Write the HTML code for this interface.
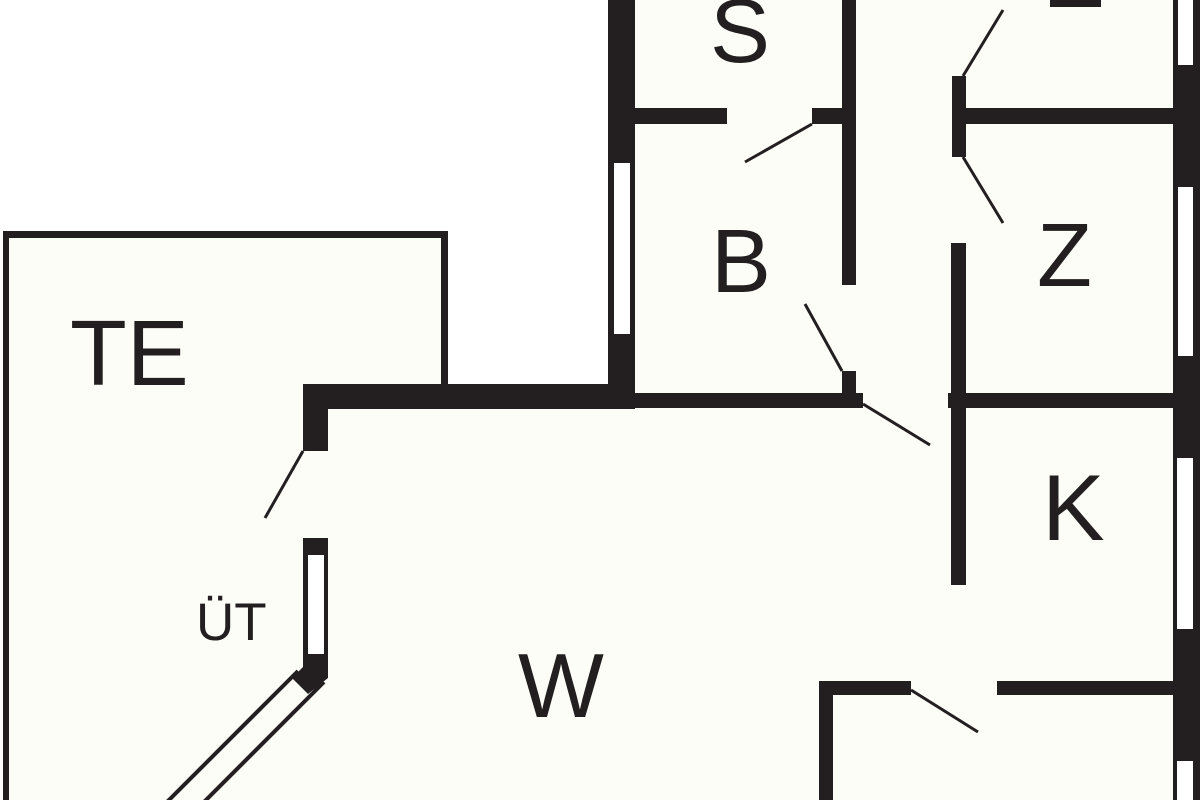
<!DOCTYPE html>
<html><head><meta charset="utf-8"><style>
html,body{margin:0;padding:0;background:#fff;}
svg{display:block;}
text{font-family:"Liberation Sans",sans-serif;fill:#231f20;}
</style></head><body>
<svg width="1200" height="800" viewBox="0 0 1200 800" xmlns="http://www.w3.org/2000/svg">
<rect x="0" y="0" width="1200" height="800" fill="#fdfdf8"/>
<rect x="0" y="0" width="608" height="231" fill="#fff"/>
<rect x="448" y="231" width="160" height="153" fill="#fff"/>
<rect x="0" y="0" width="3" height="800" fill="#fff"/>
<g fill="#231f20">
<rect x="3" y="231" width="6" height="569"/>
<rect x="3" y="231" width="445" height="7"/>
<rect x="441" y="231" width="7" height="153"/>
<rect x="303" y="384" width="332" height="25"/>
<rect x="303" y="384" width="25" height="67"/>
<rect x="303" y="538" width="25" height="117"/>
<polygon points="303,654 328,654 328,678 308,694 292,678 303,667"/>
<rect x="608" y="0" width="27" height="409"/>
<rect x="635" y="108" width="92" height="16"/>
<rect x="812" y="108" width="31" height="16"/>
<rect x="842" y="0" width="14" height="285"/>
<rect x="842" y="371" width="14" height="24"/>
<rect x="635" y="393" width="228" height="15"/>
<rect x="948" y="393" width="227" height="15"/>
<rect x="952" y="76" width="14" height="81"/>
<rect x="951" y="243" width="15" height="342"/>
<rect x="966" y="108" width="209" height="16"/>
<rect x="1173" y="0" width="27" height="800"/>
<rect x="819" y="681" width="92" height="14"/>
<rect x="997" y="681" width="176" height="14"/>
<rect x="819" y="681" width="14" height="119"/>
<rect x="1050" y="0" width="51" height="7"/>
</g>
<g fill="#fff" stroke="none">
<rect x="614" y="163" width="16" height="171"/>
<rect x="308" y="555" width="16" height="99"/>
<rect x="1178" y="0" width="15" height="65"/>
<rect x="1178" y="187" width="15" height="169"/>
<rect x="1177" y="458" width="16" height="171"/>
<rect x="1177" y="761" width="16" height="39"/>
</g>
<g stroke="#231f20" stroke-width="4" fill="none">
<line x1="298" y1="671" x2="167" y2="802"/>
<line x1="324" y1="682" x2="196" y2="810"/>
</g>
<g stroke="#231f20" stroke-width="3" fill="none">
<line x1="812" y1="124" x2="745" y2="162"/>
<line x1="842" y1="371" x2="805" y2="304"/>
<line x1="863" y1="404" x2="930" y2="445"/>
<line x1="963" y1="76" x2="1003" y2="10"/>
<line x1="963" y1="157" x2="1003" y2="223"/>
<line x1="911" y1="690" x2="978" y2="732"/>
<line x1="303" y1="451" x2="265" y2="518"/>
</g>
<text x="70" y="385" font-size="93">TE</text>
<text x="196" y="640" font-size="53">ÜT</text>
<text x="518" y="717" font-size="91">W</text>
<text x="710" y="62" font-size="90">S</text>
<text x="711" y="292" font-size="90">B</text>
<text x="1037" y="286" font-size="90">Z</text>
<text x="1042" y="540" font-size="94">K</text>
</svg>
</body></html>
